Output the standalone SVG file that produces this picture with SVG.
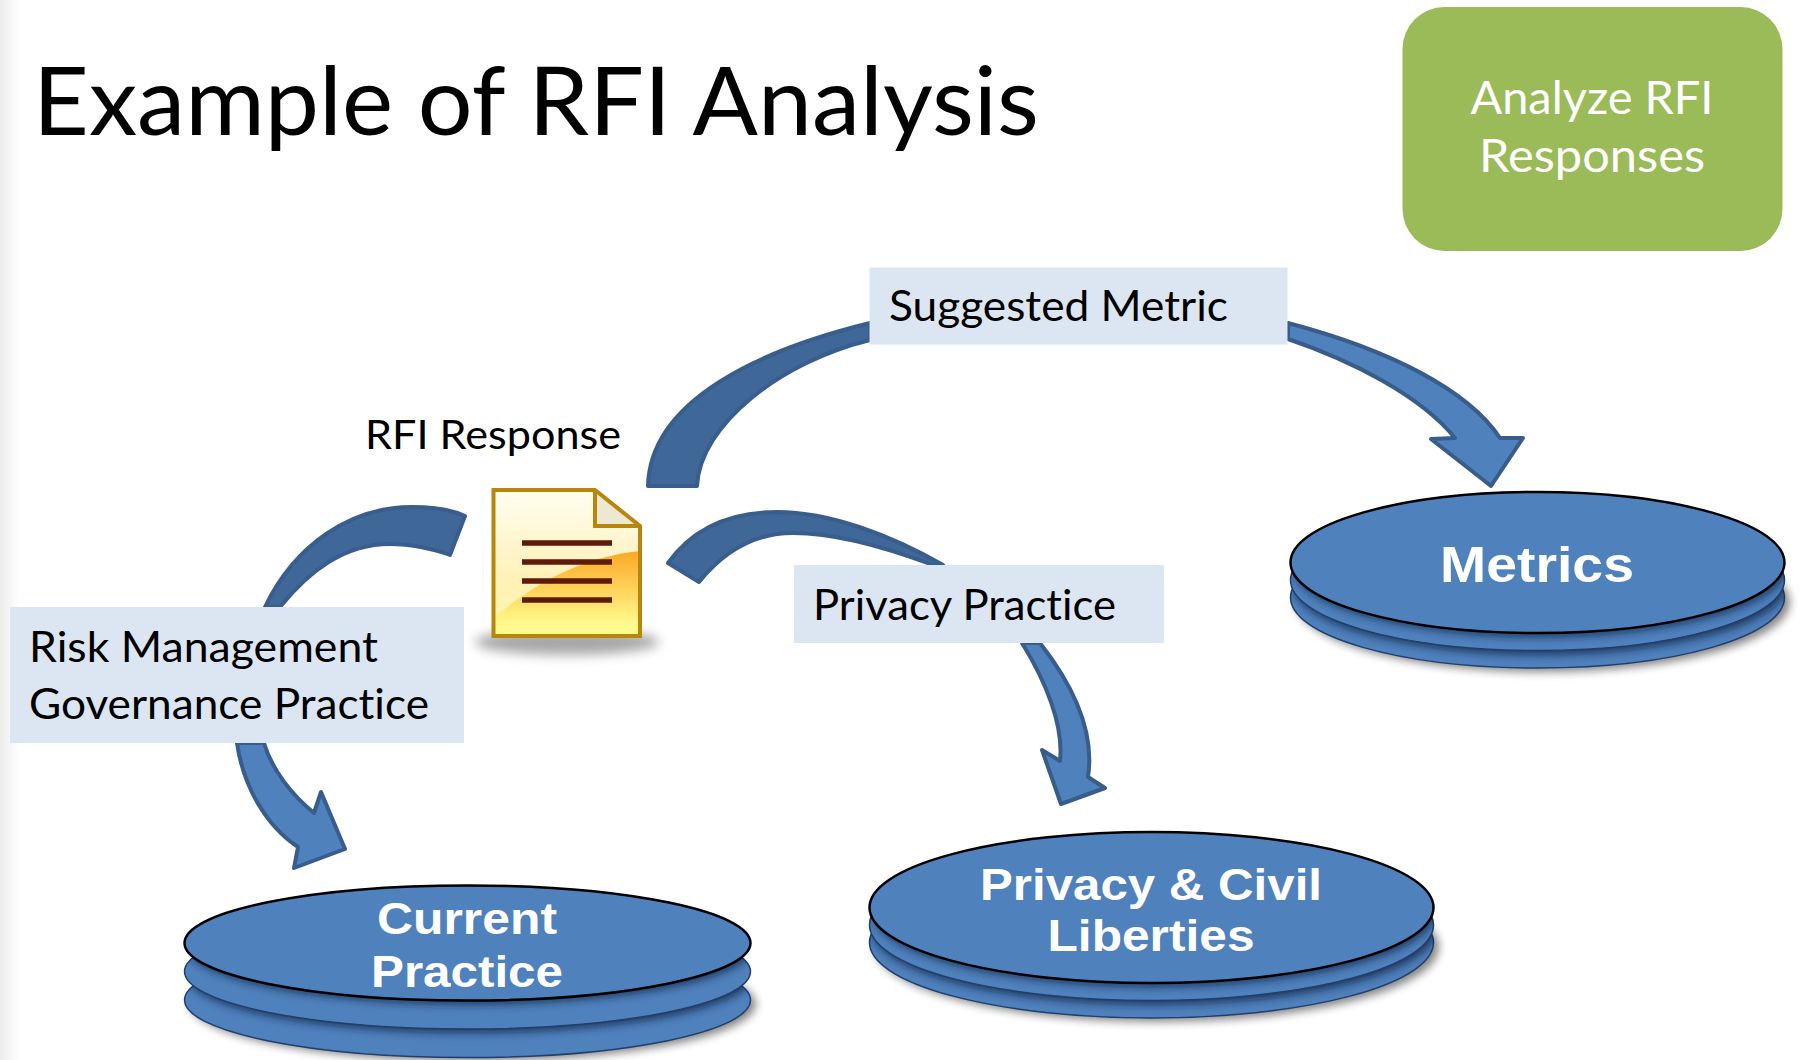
<svg xmlns="http://www.w3.org/2000/svg" width="1801" height="1060" viewBox="0 0 1801 1060">
<style>
.t{font-family:Lato,"Open Sans",sans-serif;fill:#000;font-variant-ligatures:none}
.w{fill:#fff;text-anchor:middle}
.n{font-family:"Liberation Sans",Arial,sans-serif;font-weight:700;fill:#fff;text-anchor:middle}
.lb{fill:#dce6f2}
.dk{fill:#3f6797;stroke:#395e8e;stroke-width:4;stroke-linejoin:round}
.ar{fill:#4f81bd;stroke:#385d8a;stroke-width:4;stroke-linejoin:round}
.d1{fill:#4f81bd;stroke:#1f3f6e;stroke-width:1.500}
.d0{fill:#4f81bd;stroke:#000;stroke-width:2.500}
.cast{fill:#0d1d38;opacity:.75;filter:url(#cast)}
.out{fill:#555;opacity:.7;filter:url(#sh)}
</style>
<defs>
<linearGradient id="edge" x1="0" x2="1" y1="0" y2="0"><stop offset="0" stop-color="#ececec"/><stop offset="1" stop-color="#fff"/></linearGradient>
<linearGradient id="paper" x1="0" x2="0" y1="0" y2="1"><stop offset="0" stop-color="#fffdf0"/><stop offset="0.6" stop-color="#fff1b8"/><stop offset="1" stop-color="#fff6a8"/></linearGradient>
<linearGradient id="gloss" x1="0" x2="0" y1="0" y2="1"><stop offset="0" stop-color="#fba824"/><stop offset="0.85" stop-color="#fff98c"/><stop offset="1" stop-color="#fffb90"/></linearGradient>
<filter id="sh" x="-10%" y="-30%" width="120%" height="170%"><feGaussianBlur stdDeviation="4"/></filter>
<filter id="cast" x="-10%" y="-30%" width="120%" height="170%"><feGaussianBlur stdDeviation="4"/></filter>
<filter id="sh2" x="-20%" y="-100%" width="140%" height="300%"><feGaussianBlur stdDeviation="6"/></filter>
<clipPath id="cm2"><ellipse cx="1537.500" cy="580" rx="247" ry="70.500"/></clipPath>
<clipPath id="cm3"><ellipse cx="1537.500" cy="597.500" rx="247" ry="70.500"/></clipPath>
<clipPath id="cc2"><ellipse cx="467.500" cy="971.500" rx="283" ry="57.500"/></clipPath>
<clipPath id="cc3"><ellipse cx="467.500" cy="1000" rx="283" ry="57.500"/></clipPath>
<clipPath id="cp2"><ellipse cx="1151.500" cy="925" rx="282" ry="75.500"/></clipPath>
<clipPath id="cp3"><ellipse cx="1151.500" cy="942.500" rx="282" ry="75.500"/></clipPath>
</defs>
<rect width="1801" height="1060" fill="#fff"/>
<rect width="20" height="1060" fill="url(#edge)"/>
<text class="t" x="33" y="135" font-size="95" textLength="1006" lengthAdjust="spacingAndGlyphs">Example of RFI Analysis</text>
<g id="connectors">
<path class="dk" d="M870 323C760 350 650 400 648 486L697 486C700 425 780 362 870 340Z"/>
<path class="dk" d="M265 607C295 545 350 507 412 507C430 507 450 509 465 516L450 555C435 549 410 544 390 544C345 544 310 570 280 607Z"/>
<path class="dk" d="M668 563C695 525 735 512 777 512C830 512 890 535 943 565L933 565C885 547 835 533 793 533C755 533 725 550 699 582Z"/>
<path class="ar" d="M1288 323C1390 350 1468 390 1500 438L1523 438L1491 486L1431 439L1455 438C1420 395 1350 360 1288 339Z"/>
<path class="ar" d="M237 743C243 785 265 825 298 847L294 868L345 849L321 792L314 813C292 795 272 770 264 743Z"/>
<path class="ar" d="M1022 643C1045 680 1064 725 1060 761L1042 750L1061 804L1105 788L1088 777C1096 725 1065 675 1040 643Z"/>
</g>
<g id="rfi-response">
<text class="t" x="365" y="449" font-size="40" textLength="256" lengthAdjust="spacingAndGlyphs">RFI Response</text>
<ellipse cx="567" cy="642" rx="92" ry="13" fill="#8a8a8a" opacity="0.75" filter="url(#sh2)"/>
<path d="M493.500 490H595L640 526V636H493.500Z" fill="url(#paper)"/>
<path d="M493.500 618C540 578 590 556 640 551V636H493.500Z" fill="url(#gloss)"/>
<path d="M597 492L638 526H597Z" fill="#ece8d2"/>
<path d="M493.500 490H595L640 526V636H493.500Z M595 490V526H640" fill="none" stroke="#b8860b" stroke-width="4"/>
<g stroke="#5e1a0a" stroke-width="5.500"><path d="M522 543H612M522 562H612M522 581H612M522 600H612"/></g>
</g>
<g id="label-suggested-metric">
<rect class="lb" x="869.500" y="267.500" width="418" height="77"/>
<text class="t" x="889" y="321" font-size="43" textLength="339" lengthAdjust="spacingAndGlyphs">Suggested Metric</text>
</g>
<g id="label-risk-management">
<rect class="lb" x="10" y="607" width="454" height="136"/>
<text class="t" x="29" y="662" font-size="43" textLength="349" lengthAdjust="spacingAndGlyphs">Risk Management</text>
<text class="t" x="29" y="719" font-size="43" textLength="400" lengthAdjust="spacingAndGlyphs">Governance Practice</text>
</g>
<g id="label-privacy-practice">
<rect class="lb" x="794" y="565" width="370" height="78"/>
<text class="t" x="813" y="620" font-size="43" textLength="303" lengthAdjust="spacingAndGlyphs">Privacy Practice</text>
</g>
<g id="analyze-rfi-responses">
<rect x="1402.500" y="7" width="380" height="244" rx="42" fill="#9bbb59"/>
<text class="t w" x="1592" y="114" font-size="47" textLength="243" lengthAdjust="spacingAndGlyphs">Analyze RFI</text>
<text class="t w" x="1592" y="172" font-size="47" textLength="226" lengthAdjust="spacingAndGlyphs">Responses</text>
</g>
<g id="metrics">
<ellipse class="out" cx="1543" cy="602" rx="247" ry="70"/>
<ellipse class="d1" cx="1537.500" cy="597.500" rx="247" ry="70.500"/>
<ellipse class="cast" cx="1540" cy="584" rx="247" ry="70.500" clip-path="url(#cm3)"/>
<ellipse class="d1" cx="1537.500" cy="580" rx="247" ry="70.500"/>
<ellipse class="cast" cx="1540" cy="566" rx="247" ry="70.500" clip-path="url(#cm2)"/>
<ellipse class="d0" cx="1537.500" cy="562.500" rx="247" ry="70.500"/>
<text class="n" x="1537" y="582" font-size="50" textLength="194" lengthAdjust="spacingAndGlyphs">Metrics</text>
</g>
<g id="current-practice">
<ellipse class="out" cx="473" cy="1004" rx="283" ry="57"/>
<ellipse class="d1" cx="467.500" cy="1000" rx="283" ry="57.500"/>
<ellipse class="cast" cx="470" cy="975" rx="283" ry="57.500" clip-path="url(#cc3)"/>
<ellipse class="d1" cx="467.500" cy="971.500" rx="283" ry="57.500"/>
<ellipse class="cast" cx="470" cy="946.500" rx="283" ry="57.500" clip-path="url(#cc2)"/>
<ellipse class="d0" cx="467.500" cy="943" rx="283" ry="57.500"/>
<text class="n" x="467" y="934" font-size="44" textLength="180" lengthAdjust="spacingAndGlyphs">Current</text>
<text class="n" x="467" y="987" font-size="44" textLength="192" lengthAdjust="spacingAndGlyphs">Practice</text>
</g>
<g id="privacy-civil-liberties">
<ellipse class="out" cx="1157" cy="947" rx="282" ry="75"/>
<ellipse class="d1" cx="1151.500" cy="942.500" rx="282" ry="75.500"/>
<ellipse class="cast" cx="1154" cy="929" rx="282" ry="75.500" clip-path="url(#cp3)"/>
<ellipse class="d1" cx="1151.500" cy="925" rx="282" ry="75.500"/>
<ellipse class="cast" cx="1154" cy="911" rx="282" ry="75.500" clip-path="url(#cp2)"/>
<ellipse class="d0" cx="1151.500" cy="907.500" rx="282" ry="75.500"/>
<text class="n" x="1151" y="900" font-size="44" textLength="342" lengthAdjust="spacingAndGlyphs">Privacy &amp; Civil</text>
<text class="n" x="1151" y="951" font-size="44" textLength="207" lengthAdjust="spacingAndGlyphs">Liberties</text>
</g>
</svg>
